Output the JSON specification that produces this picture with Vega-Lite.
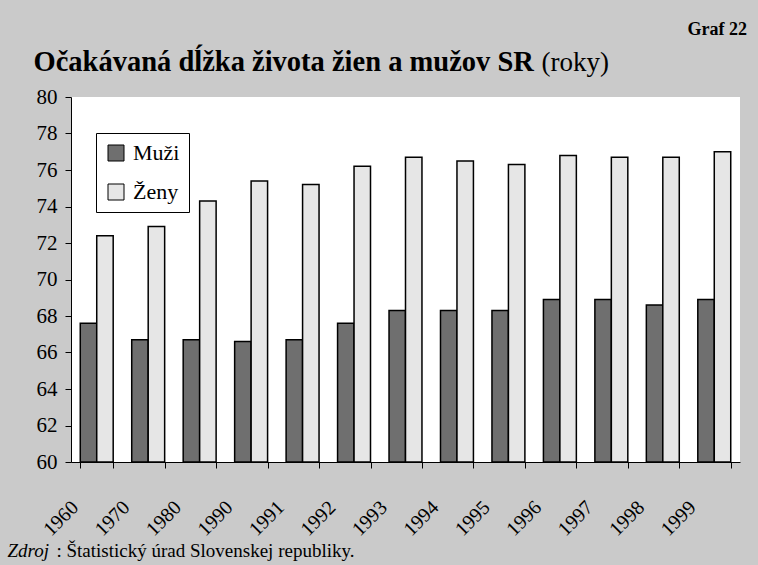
{
  "$schema": "https://vega.github.io/schema/vega-lite/v6.json",
  "autosize": {"type": "none"},
  "width": 669,
  "height": 365,
  "padding": {"left": 71, "top": 97, "right": 18, "bottom": 103},
  "background": "#cacaca",
  "config": {
    "font": "Liberation Serif, Times New Roman, serif",
    "view": {"stroke": null, "fill": "white"},
    "axis": {"labelColor": "black", "titleColor": "black", "domainColor": "black", "tickColor": "black", "grid": false, "labelFont": "Liberation Serif, Times New Roman, serif", "titleFont": "Liberation Serif, Times New Roman, serif"}
  },
  "title": {"text": "Graf 22", "anchor": "end", "frame": "group", "fontSize": 18, "fontWeight": "bold", "font": "Liberation Serif, Times New Roman, serif", "color": "black", "offset": 8, "dx": 7},
  "data": {"values": [
    {"year": "1960", "series": "Muži", "value": 67.6},
    {"year": "1970", "series": "Muži", "value": 66.7},
    {"year": "1980", "series": "Muži", "value": 66.7},
    {"year": "1990", "series": "Muži", "value": 66.6},
    {"year": "1991", "series": "Muži", "value": 66.7},
    {"year": "1992", "series": "Muži", "value": 67.6},
    {"year": "1993", "series": "Muži", "value": 68.3},
    {"year": "1994", "series": "Muži", "value": 68.3},
    {"year": "1995", "series": "Muži", "value": 68.3},
    {"year": "1996", "series": "Muži", "value": 68.9},
    {"year": "1997", "series": "Muži", "value": 68.9},
    {"year": "1998", "series": "Muži", "value": 68.6},
    {"year": "1999", "series": "Muži", "value": 68.9},
    {"year": "1960", "series": "Ženy", "value": 72.4},
    {"year": "1970", "series": "Ženy", "value": 72.9},
    {"year": "1980", "series": "Ženy", "value": 74.3},
    {"year": "1990", "series": "Ženy", "value": 75.4},
    {"year": "1991", "series": "Ženy", "value": 75.2},
    {"year": "1992", "series": "Ženy", "value": 76.2},
    {"year": "1993", "series": "Ženy", "value": 76.7},
    {"year": "1994", "series": "Ženy", "value": 76.5},
    {"year": "1995", "series": "Ženy", "value": 76.3},
    {"year": "1996", "series": "Ženy", "value": 76.8},
    {"year": "1997", "series": "Ženy", "value": 76.7},
    {"year": "1998", "series": "Ženy", "value": 76.7},
    {"year": "1999", "series": "Ženy", "value": 77.0}
  ]},
  "layer": [
    {
      "transform": [{"filter": "datum.series == 'Muži'"}],
      "mark": {"type": "bar", "stroke": "black", "strokeWidth": 1.5},
      "encoding": {
        "x": {"field": "year", "type": "nominal", "scale": {"paddingInner": 0.36, "paddingOuter": 0.18},
          "axis": {"orient": "bottom", "labelAngle": -45, "labelAlign": "right", "labelBaseline": "middle", "labelFontSize": 20, "labelPadding": 36, "labelOffset": -22, "tickBand": "extent", "tickSize": 6, "title": ": Štatistický úrad Slovenskej republiky.", "titleX": -15, "titleY": 94, "titleAlign": "left", "titleBaseline": "alphabetic", "titleAngle": 0, "titleFontSize": 19, "titleFontWeight": "normal"}},
        "xOffset": {"field": "series", "scale": {"domain": ["Muži", "Ženy"], "paddingInner": 0, "paddingOuter": 0}},
        "y": {"field": "value", "type": "quantitative", "scale": {"domain": [60, 80], "zero": false, "nice": false},
          "axis": {"orient": "left", "values": [60, 62, 64, 66, 68, 70, 72, 74, 76, 78, 80], "labelFontSize": 21, "labelPadding": 8, "tickSize": 6, "title": "Očakávaná dĺžka života žien a mužov SR", "titleX": -38, "titleY": -27, "titleAngle": 0, "titleAlign": "left", "titleBaseline": "alphabetic", "titleFontSize": 28.5, "titleFontWeight": "bold"}},
        "y2": {"datum": 60},
        "fill": {"field": "series", "type": "nominal",
          "scale": {"domain": ["Muži", "Ženy"], "range": ["#6f6f6f", "#e6e6e6"]},
          "legend": {"orient": "none", "legendX": 25, "legendY": 36, "title": null, "symbolType": "square", "symbolSize": 256, "symbolStrokeWidth": 1, "symbolStrokeColor": "black", "labelFontSize": 22, "labelFont": "Liberation Serif, Times New Roman, serif", "labelColor": "black", "rowPadding": 17, "padding": 9, "strokeColor": "black", "fillColor": "white", "labelOffset": 6}}
      }
    },
    {
      "transform": [{"filter": "datum.series == 'Ženy'"}],
      "mark": {"type": "bar", "stroke": "black", "strokeWidth": 1.5},
      "encoding": {
        "x": {"field": "year", "type": "nominal", "scale": {"paddingInner": 0.36, "paddingOuter": 0.18},
          "axis": {"orient": "top", "labels": false, "ticks": false, "domain": false, "title": "Zdroj", "titleX": -64, "titleY": 459, "titleAlign": "left", "titleBaseline": "alphabetic", "titleAngle": 0, "titleFontSize": 19, "titleFontWeight": "normal", "titleFontStyle": "italic"}},
        "xOffset": {"field": "series", "scale": {"domain": ["Muži", "Ženy"], "paddingInner": 0, "paddingOuter": 0}},
        "y": {"field": "value", "type": "quantitative", "scale": {"domain": [60, 80], "zero": false, "nice": false},
          "axis": {"orient": "right", "labels": false, "ticks": false, "domain": false, "title": "(roky)", "titleX": -199, "titleY": -27, "titleAngle": 0, "titleAlign": "left", "titleBaseline": "alphabetic", "titleFontSize": 27, "titleFontWeight": "normal"}},
        "y2": {"datum": 60},
        "fill": {"field": "series", "type": "nominal"}
      }
    }
  ],
  "resolve": {"axis": {"x": "independent", "y": "independent"}}
}
